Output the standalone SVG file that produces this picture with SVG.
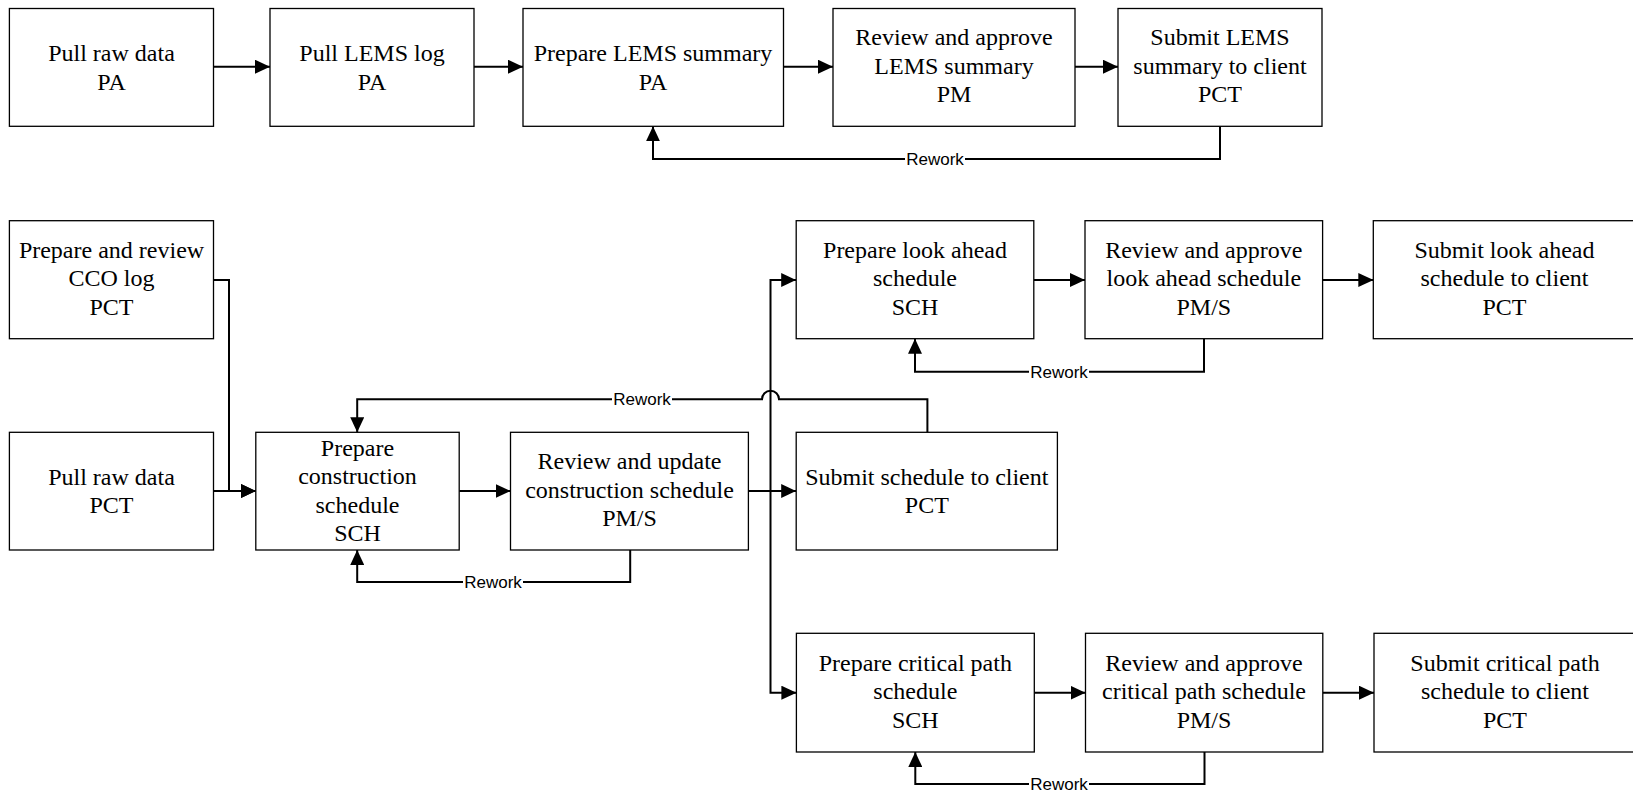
<svg xmlns="http://www.w3.org/2000/svg" width="1633" height="796" viewBox="0 0 1633 796">
<style>
.box{fill:#fff;stroke:#000;stroke-width:1.3}
.t{font-family:"Liberation Serif","Times New Roman",serif;font-size:24px;text-anchor:middle;fill:#000}
.c{fill:none;stroke:#000;stroke-width:2}
.a{marker-end:url(#ah)}
.lbl{font-family:"Liberation Sans",Arial,sans-serif;font-size:17px;text-anchor:middle;fill:#000}
.lb{fill:#fff}
</style>
<defs>
<marker id="ah" viewBox="0 0 15 14" markerWidth="15" markerHeight="14" refX="15" refY="7" orient="auto" markerUnits="userSpaceOnUse">
<path d="M0,0 L15,7 L0,14 z" fill="#000"/>
</marker>
</defs>
<rect width="1633" height="796" fill="#fff"/>

<g id="connectors">
<path class="c a" d="M213.5,66.7 H270"/>
<path class="c a" d="M474,66.7 H523"/>
<path class="c a" d="M783.5,66.7 H833"/>
<path class="c a" d="M1075,66.7 H1118"/>
<path class="c a" d="M1220,126.3 V159 H653 V126.3"/>
<path class="c a" d="M213.5,280 H229 V491 H255.8"/>
<path class="c a" d="M213.5,491 H255.8"/>
<path class="c a" d="M459.2,491 H510.5"/>
<path class="c a" d="M748.4,491 H796.2"/>
<path class="c a" d="M770.5,491 V280 H796.2"/>
<path class="c a" d="M770.5,491 V692.7 H796.4"/>
<path class="c a" d="M1033.8,280 H1085"/>
<path class="c a" d="M1322.6,280 H1373.3"/>
<path class="c a" d="M1034.3,692.7 H1085.5"/>
<path class="c a" d="M1322.8,692.7 H1374"/>
<path class="c a" d="M1204,338.7 V371.7 H915 V338.7"/>
<path class="c a" d="M1204.5,752 V784 H915.3 V752"/>
<path class="c a" d="M630.2,550 V582 H357.2 V550"/>
<path class="c a" d="M927.4,432.3 V399.3 H779 A8.5,8.5 0 0 0 762,399.3 H357.2 V432.3"/>
<g id="rework-labels">
<rect class="lb" x="905" y="150" width="60" height="18"/>
<text class="lbl" x="935" y="165">Rework</text>
<rect class="lb" x="1029" y="362.7" width="60" height="18"/>
<text class="lbl" x="1059" y="377.7">Rework</text>
<rect class="lb" x="612" y="390.3" width="60" height="18"/>
<text class="lbl" x="642" y="405.3">Rework</text>
<rect class="lb" x="463" y="573" width="60" height="18"/>
<text class="lbl" x="493" y="588">Rework</text>
<rect class="lb" x="1029" y="775" width="60" height="18"/>
<text class="lbl" x="1059" y="790">Rework</text>
</g>
</g>

<g id="n-pull-raw-pa">
<rect class="box" x="9.4" y="8.5" width="204.1" height="117.8"/>
<text class="t"><tspan x="111.5" y="61">Pull raw data</tspan><tspan x="111.5" y="89.5">PA</tspan></text>
</g>
<g id="n-pull-lems">
<rect class="box" x="270" y="8.5" width="204" height="117.8"/>
<text class="t"><tspan x="372" y="61">Pull LEMS log</tspan><tspan x="372" y="89.5">PA</tspan></text>
</g>
<g id="n-prepare-lems">
<rect class="box" x="523" y="8.5" width="260.5" height="117.8"/>
<text class="t"><tspan x="653" y="61">Prepare LEMS summary</tspan><tspan x="653" y="89.5">PA</tspan></text>
</g>
<g id="n-review-lems">
<rect class="box" x="833" y="8.5" width="242" height="117.8"/>
<text class="t"><tspan x="954" y="45.2">Review and approve</tspan><tspan x="954" y="73.7">LEMS summary</tspan><tspan x="954" y="102.2">PM</tspan></text>
</g>
<g id="n-submit-lems">
<rect class="box" x="1118" y="8.5" width="204" height="117.8"/>
<text class="t"><tspan x="1220" y="45.2">Submit LEMS</tspan><tspan x="1220" y="73.7">summary to client</tspan><tspan x="1220" y="102.2">PCT</tspan></text>
</g>

<g id="n-cco-log">
<rect class="box" x="9.4" y="220.7" width="204.1" height="118"/>
<text class="t"><tspan x="111.5" y="257.5">Prepare and review</tspan><tspan x="111.5" y="286">CCO log</tspan><tspan x="111.5" y="314.5">PCT</tspan></text>
</g>
<g id="n-pull-raw-pct">
<rect class="box" x="9.4" y="432.3" width="204.1" height="117.7"/>
<text class="t"><tspan x="111.5" y="484.8">Pull raw data</tspan><tspan x="111.5" y="513.3">PCT</tspan></text>
</g>
<g id="n-prepare-construction">
<rect class="box" x="255.8" y="432.3" width="203.4" height="117.7"/>
<text class="t"><tspan x="357.5" y="455.5">Prepare</tspan><tspan x="357.5" y="484">construction</tspan><tspan x="357.5" y="512.5">schedule</tspan><tspan x="357.5" y="541">SCH</tspan></text>
</g>
<g id="n-review-construction">
<rect class="box" x="510.5" y="432.3" width="237.9" height="117.7"/>
<text class="t"><tspan x="629.5" y="469">Review and update</tspan><tspan x="629.5" y="497.5">construction schedule</tspan><tspan x="629.5" y="526">PM/S</tspan></text>
</g>
<g id="n-submit-schedule">
<rect class="box" x="796.2" y="432.3" width="261.2" height="117.7"/>
<text class="t"><tspan x="926.8" y="484.8">Submit schedule to client</tspan><tspan x="926.8" y="513.3">PCT</tspan></text>
</g>
<g id="n-prepare-lookahead">
<rect class="box" x="796.2" y="220.7" width="237.6" height="118"/>
<text class="t"><tspan x="915" y="257.5">Prepare look ahead</tspan><tspan x="915" y="286">schedule</tspan><tspan x="915" y="314.5">SCH</tspan></text>
</g>
<g id="n-review-lookahead">
<rect class="box" x="1085" y="220.7" width="237.6" height="118"/>
<text class="t"><tspan x="1203.8" y="257.5">Review and approve</tspan><tspan x="1203.8" y="286">look ahead schedule</tspan><tspan x="1203.8" y="314.5">PM/S</tspan></text>
</g>
<g id="n-submit-lookahead">
<rect class="box" x="1373.3" y="220.7" width="263" height="118"/>
<text class="t"><tspan x="1504.5" y="257.5">Submit look ahead</tspan><tspan x="1504.5" y="286">schedule to client</tspan><tspan x="1504.5" y="314.5">PCT</tspan></text>
</g>
<g id="n-prepare-critical">
<rect class="box" x="796.4" y="633.3" width="237.9" height="118.7"/>
<text class="t"><tspan x="915.3" y="670.5">Prepare critical path</tspan><tspan x="915.3" y="699">schedule</tspan><tspan x="915.3" y="727.5">SCH</tspan></text>
</g>
<g id="n-review-critical">
<rect class="box" x="1085.5" y="633.3" width="237.3" height="118.7"/>
<text class="t"><tspan x="1204" y="670.5">Review and approve</tspan><tspan x="1204" y="699">critical path schedule</tspan><tspan x="1204" y="727.5">PM/S</tspan></text>
</g>
<g id="n-submit-critical">
<rect class="box" x="1374" y="633.3" width="263" height="118.7"/>
<text class="t"><tspan x="1505" y="670.5">Submit critical path</tspan><tspan x="1505" y="699">schedule to client</tspan><tspan x="1505" y="727.5">PCT</tspan></text>
</g>
</svg>
